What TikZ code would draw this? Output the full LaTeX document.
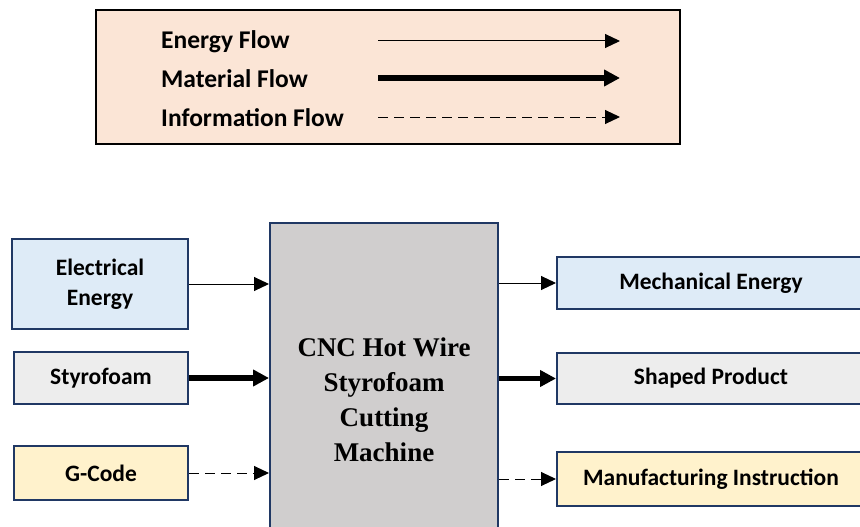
\documentclass[tikz,border=0pt]{standalone}
\usepackage{fontspec}
\setmainfont{Liberation Serif}
\newfontfamily\calibri{Carlito}
\usetikzlibrary{arrows.meta}
\definecolor{navy}{HTML}{203864}
\definecolor{peach}{HTML}{FBE5D6}
\definecolor{ltblue}{HTML}{DEEBF7}
\definecolor{ltgrey}{HTML}{EDEDED}
\definecolor{ltyellow}{HTML}{FFF2CC}
\definecolor{midgrey}{HTML}{D0CECE}
\tikzset{%
  block/.style   = {shape=rectangle, draw=navy, line width=2pt,%
                    align=center, inner sep=0pt,%
                    font=\calibri\bfseries\fontsize{23.5}{30}\selectfont},%
  energy/.style  = {block, fill=ltblue},%
  matter/.style  = {block, fill=ltgrey},%
  info/.style    = {block, fill=ltyellow},%
  machine/.style = {block, fill=midgrey, font=\bfseries\fontsize{27}{35}\selectfont},%
  eflow/.style   = {-{Triangle[length=15pt,width=14pt]}, line width=1pt},%
  mflow/.style   = {-{Triangle[length=16pt,width=16pt]}, line width=5.5pt},%
  iflow/.style   = {eflow, dash pattern=on 10pt off 6pt},%
  legtext/.style = {anchor=west, inner sep=0pt,%
                    font=\calibri\bfseries\fontsize{25.5}{30}\selectfont}%
}
\begin{document}
\begin{tikzpicture}[x=1pt,y=-1pt]
\useasboundingbox (0,0) rectangle (860,527);
\clip (0,0) rectangle (860,527);
% legend
\node[draw=black, line width=2.5pt, fill=peach, inner sep=0pt,
      minimum width=584pt, minimum height=134pt] (legend) at (388,77) {};
\node[legtext] (le) at (161,42) {Energy Flow};
\node[legtext] (lm) at (161,79) {Material Flow};
\node[legtext] (li) at (161,118) {Information Flow};
\coordinate (le1) at (378,41);  \coordinate (le2) at (620,41);
\coordinate (lm1) at (378,78);  \coordinate (lm2) at (620,78);
\coordinate (li1) at (378,117); \coordinate (li2) at (620,117);
\draw[eflow] (le1) -- (le2);
\draw[mflow] (lm1) -- (lm2);
\draw[iflow] (li1) -- (li2);
% inputs
\node[energy, minimum width=176pt, minimum height=90pt] (elec) at (100,284) {Electrical\\Energy};
\node[matter, minimum width=174pt, minimum height=52pt] (styro) at (101,378) {Styrofoam};
\node[info, minimum width=174pt, minimum height=54pt] (gcode) at (101,473) {G-Code};
% machine
\node[machine, minimum width=228pt, minimum height=354pt] (cnc) at (384,400)
  {CNC Hot Wire\\Styrofoam\\Cutting\\Machine};
% outputs
\node[energy, minimum width=308pt, minimum height=52pt] (mech) at (711,283) {Mechanical Energy};
\node[matter, minimum width=308pt, minimum height=51pt] (shaped) at (711,378.5) {Shaped Product};
\node[info, minimum width=308pt, minimum height=54pt] (manuf) at (711,479) {Manufacturing Instruction};
% flows
\draw[eflow] (elec.east) -- (elec.east -| cnc.west);
\draw[mflow] (styro.east) -- (styro.east -| cnc.west);
\draw[iflow] (gcode.east) -- (gcode.east -| cnc.west);
\draw[eflow] (cnc.east |- mech) -- (mech.west);
\draw[mflow] (cnc.east |- shaped) -- (shaped.west);
\draw[iflow] (cnc.east |- manuf) -- (manuf.west);
\end{tikzpicture}
\end{document}
